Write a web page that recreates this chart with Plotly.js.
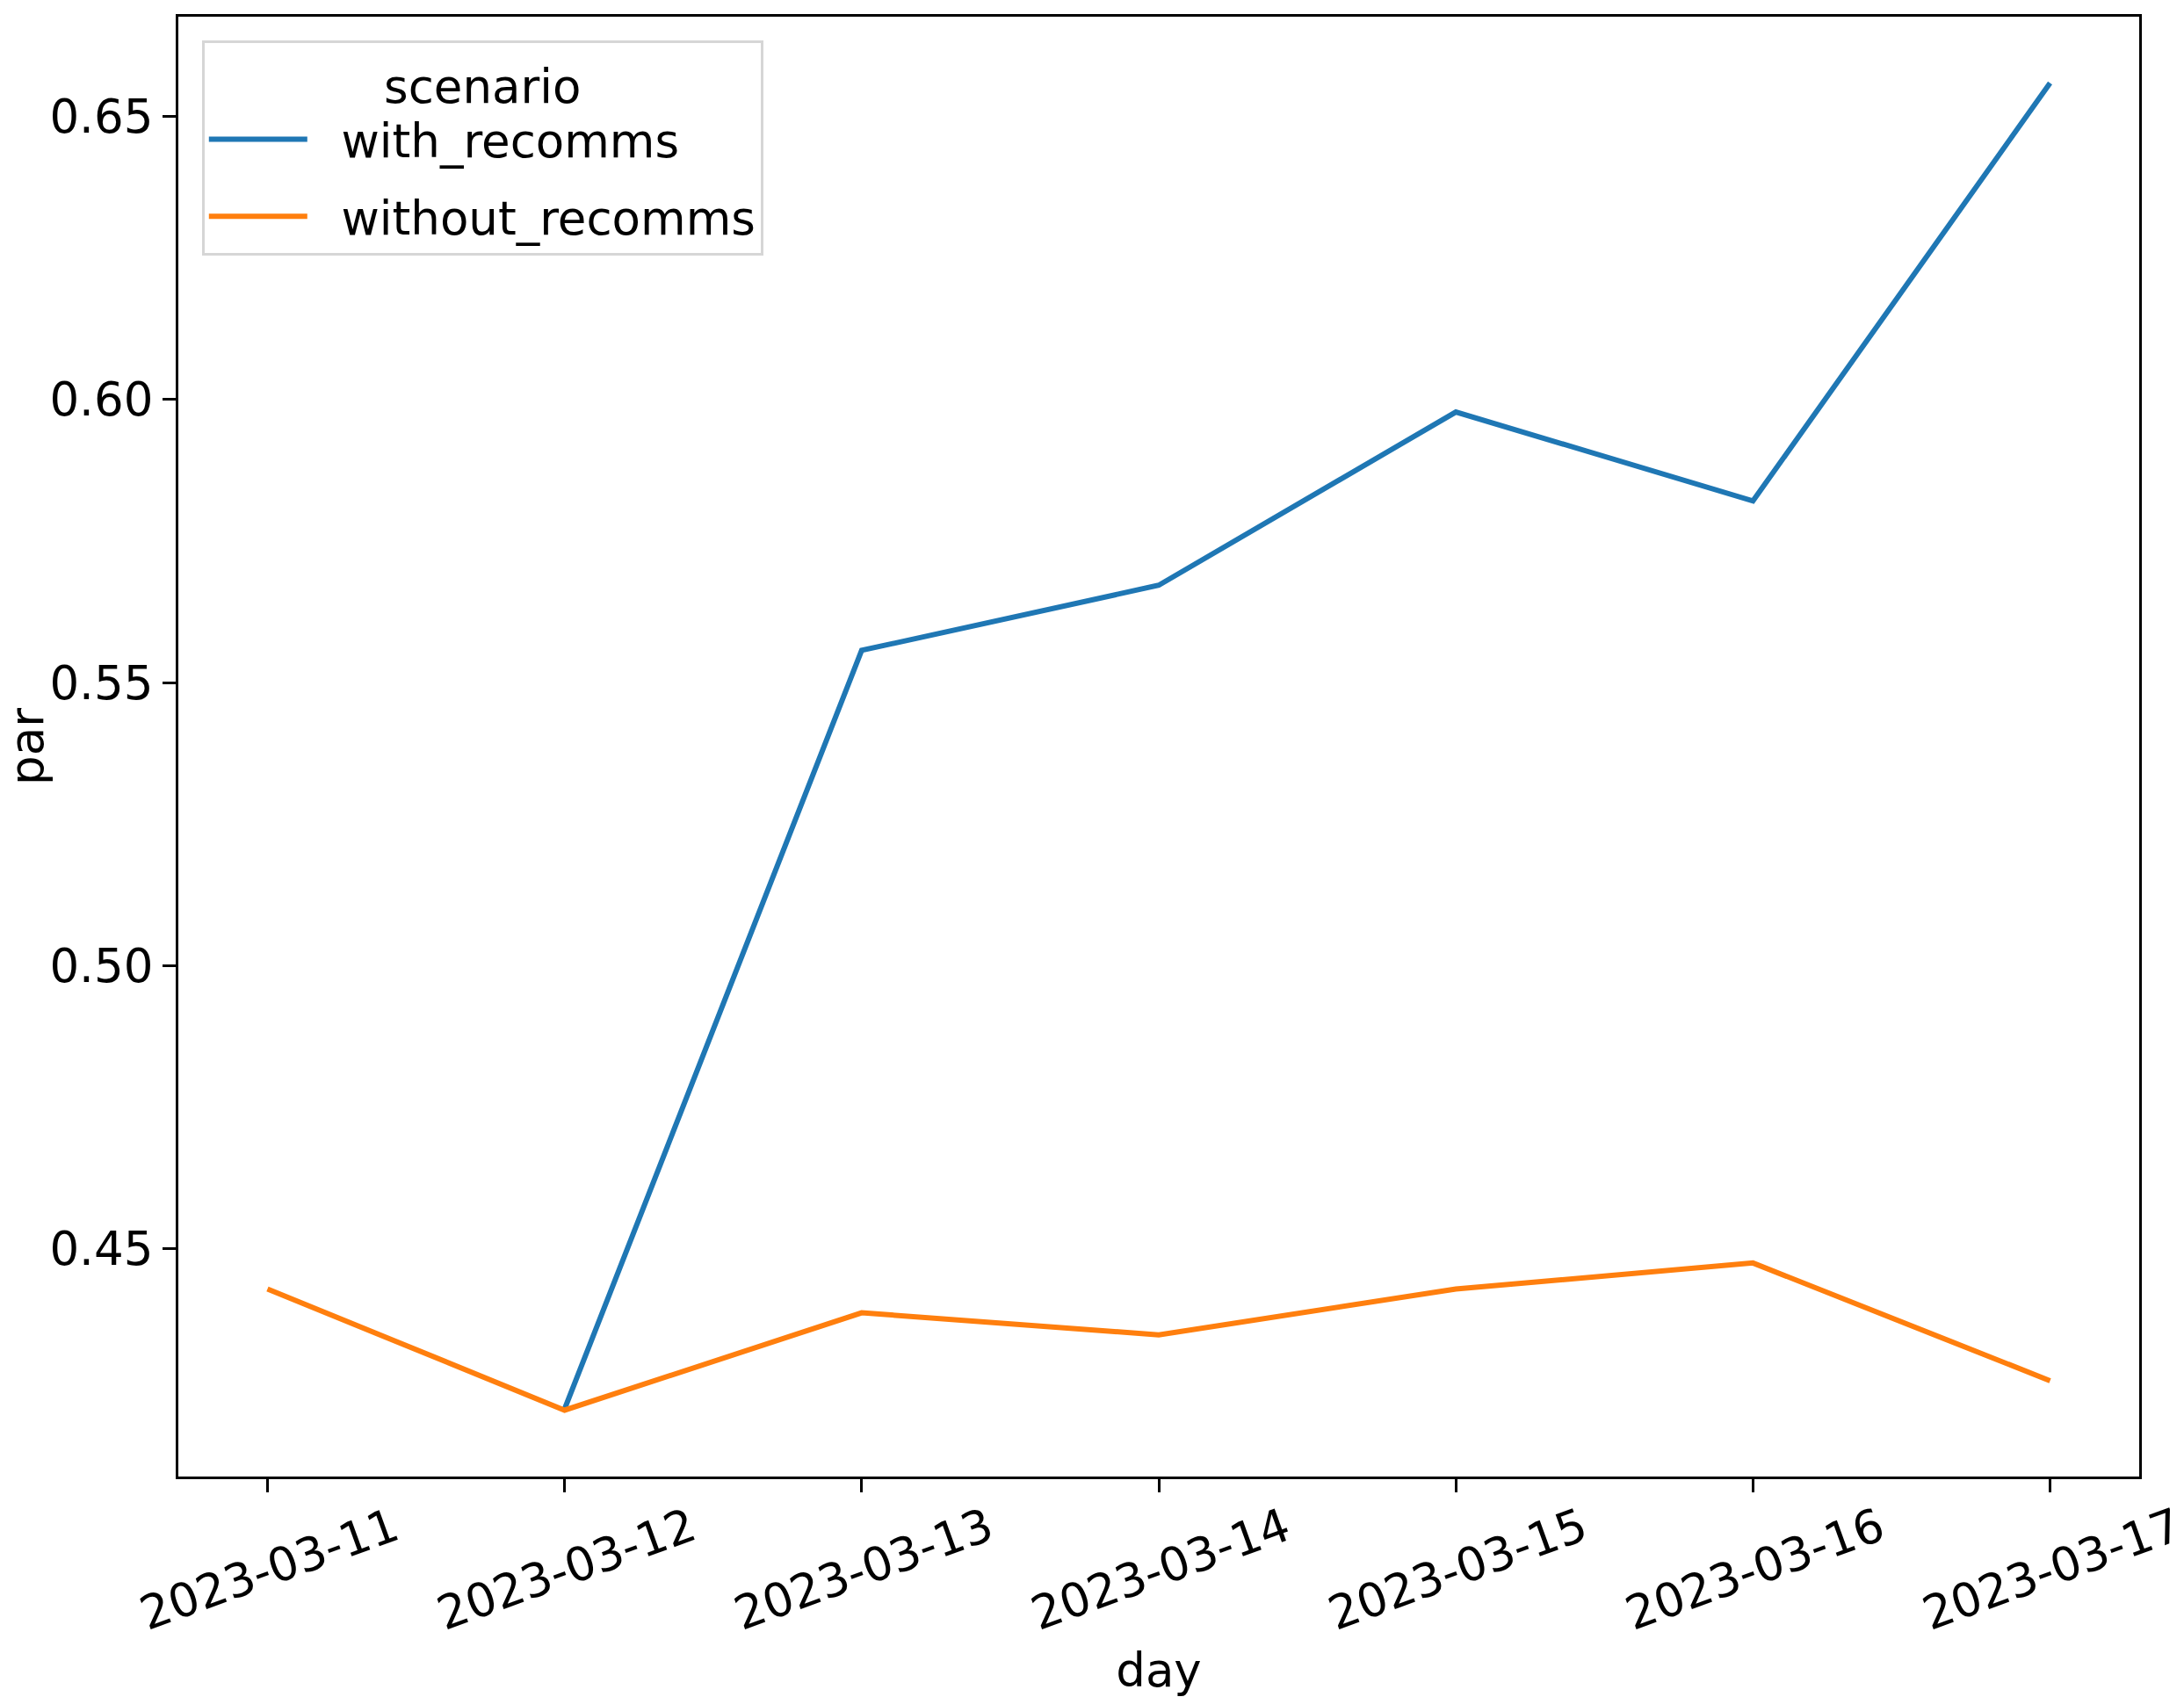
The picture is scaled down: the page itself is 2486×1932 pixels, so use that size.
<!DOCTYPE html>
<html>
<head>
<meta charset="utf-8">
<script src="https://cdn.plot.ly/plotly-3.0.1.min.js"></script>
<style>
  html, body { margin: 0; padding: 0; background: #fff; }
  #plot { width: 2486px; height: 1932px; }
</style>
</head>
<body>
<div id="plot"></div>
<script>
// values
const days = ['2023-03-11', '2023-03-12', '2023-03-13', '2023-03-14', '2023-03-15', '2023-03-16', '2023-03-17'];
const withRecomms = [null, 0.4217, 0.5557, 0.5672, 0.5978, 0.5821, 0.6559];
const withoutRecomms = [0.4429, 0.4215, 0.4387, 0.4348, 0.4429, 0.4475, 0.4267];
const seriesNames = ['with_recomms', 'without_recomms'];
const yTicks = [0.45, 0.50, 0.55, 0.60, 0.65];

const FONT = 'DejaVu Sans, Liberation Sans, sans-serif';
const FS = 53;
const GAP = '\u00a0\u00a0'; // a bit of room between legend line and label

// matplotlib-like 5% margins around the data
function padRange(lo, hi) {
    const pad = (hi - lo) * 0.05;
    return [lo - pad, hi + pad];
}

const t0 = new Date(days[0] + 'T00:00:00Z').getTime();
const t1 = new Date(days[days.length - 1] + 'T00:00:00Z').getTime();
const xr = padRange(t0, t1).map(t => new Date(t).toISOString().replace('T', ' ').replace('Z', ''));

const allVals = withRecomms.concat(withoutRecomms).filter(v => v !== null);
const yr = padRange(Math.min(...allVals), Math.max(...allVals));

const traces = [
    {
        x: days,
        y: withRecomms,
        name: GAP + seriesNames[0],
        legendgroup: 'a',
        mode: 'lines',
        type: 'scatter',
        line: { color: '#1f77b4', width: 6 }
    },
    {
        x: days,
        y: withoutRecomms,
        name: GAP + seriesNames[1],
        legendgroup: 'b',
        mode: 'lines',
        type: 'scatter',
        line: { color: '#ff7f0e', width: 6 }
    }
];

const layout = {
    width: 2486,
    height: 1932,
    margin: { l: 203, r: 51, t: 19, b: 251 },
    paper_bgcolor: '#ffffff',
    plot_bgcolor: '#ffffff',
    font: { family: FONT, size: FS, color: '#000000' },
    showlegend: true,
    legend: {
        x: 0.012,
        y: 0.984,
        xanchor: 'left',
        yanchor: 'top',
        bgcolor: '#ffffff',
        bordercolor: '#d6d6d6',
        borderwidth: 3,
        itemwidth: 112,
        tracegroupgap: 16,
        font: { family: FONT, size: FS, color: '#000000' },
        title: { text: 'scenario', side: 'top center', font: { family: FONT, size: FS } }
    },
    xaxis: {
        type: 'date',
        range: xr,
        tickvals: days,
        ticktext: days,
        tickangle: -20,
        ticklabelshift: 144,
        ticklabelstandoff: -10,
        ticklabeloverflow: 'allow',
        ticks: 'outside',
        ticklen: 15,
        tickwidth: 3,
        tickcolor: '#000',
        showgrid: false,
        zeroline: false,
        showline: true,
        linecolor: '#000',
        linewidth: 3,
        mirror: true,
        automargin: false,
        tickfont: { family: FONT, size: FS },
        title: { text: 'day', font: { family: FONT, size: FS }, standoff: 50 }
    },
    yaxis: {
        range: yr,
        tickvals: yTicks,
        tickformat: '.2f',
        ticks: 'outside',
        ticklen: 15,
        tickwidth: 3,
        tickcolor: '#000',
        showgrid: false,
        zeroline: false,
        showline: true,
        linecolor: '#000',
        linewidth: 3,
        mirror: true,
        automargin: false,
        tickfont: { family: FONT, size: FS },
        title: { text: 'par', font: { family: FONT, size: FS }, standoff: 12 }
    }
};

Plotly.newPlot('plot', traces, layout, { displayModeBar: false, staticPlot: true });
</script>
</body>
</html>
